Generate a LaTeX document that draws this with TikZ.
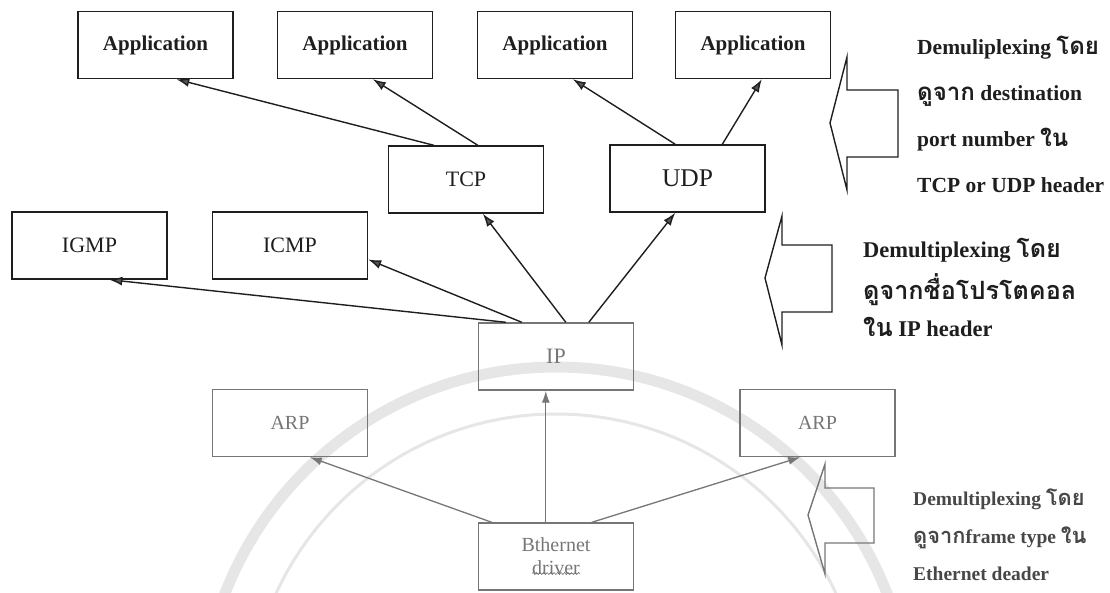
\documentclass[tikz,border=0pt]{standalone}
\usepackage{fontspec}
\setmainfont{Liberation Serif}
\newfontfamily\thaifont[Script=Thai,Scale=1.12]{Loma}
\usetikzlibrary{arrows.meta,calc,decorations.pathmorphing}
\definecolor{ink}{HTML}{1E1E1E}
\definecolor{headfill}{HTML}{555555}
\definecolor{faint}{HTML}{767676}
\definecolor{seal}{HTML}{E6E6E6}
\newcommand{\thx}[1]{{\thaifont #1}}
\begin{document}
\begin{tikzpicture}[x=1pt,y=-1pt,
  box/.style={draw=ink, line width=1.4pt, minimum width=155pt, minimum height=67pt,
    inner sep=0pt, text=ink, font=\fontsize{22}{24}\selectfont},
  appbox/.style={box, font=\bfseries\fontsize{21}{23}\selectfont},
  lowbox/.style={box, draw=faint, text=faint},
  link/.style={draw=ink, line width=1.4pt,
    -{Latex[length=13pt,width=9pt,fill=headfill]}},
  lowlink/.style={draw=faint, line width=1.3pt,
    -{Latex[length=12pt,width=8pt,fill=faint]}},
  blockarrow/.style={draw=ink, line width=1.4pt, line join=miter},
  note/.style={anchor=base west, inner sep=0pt, text=ink,
    font=\bfseries\fontsize{21.5}{24}\selectfont},
  lownote/.style={note, text=black!72,
    font=\bfseries\fontsize{19.5}{22}\selectfont},
]
\useasboundingbox (0,0) rectangle (1110,593);

% faint seal in the background
\begin{scope}
  \clip (0,0) rectangle (1110,593);
  \draw[seal, line width=11pt] (556,722) circle[radius=355];
  \draw[seal, line width=3pt] (556,722) circle[radius=308];
\end{scope}

% application layer
\node[appbox] (app1) at (155.5,45) {Application};
\node[appbox] (app2) at (355,45)   {Application};
\node[appbox] (app3) at (555,45)   {Application};
\node[appbox] (app4) at (753,45)   {Application};

% transport layer
\node[box] (tcp) at (466,179.5) {TCP};
\node[box, font=\fontsize{25.5}{27}\selectfont] (udp) at (687.5,178.5) {UDP};

% network layer
\node[box] (igmp) at (89.5,245.5) {IGMP};
\node[box] (icmp) at (290,245.5)  {ICMP};
\node[lowbox] (ip) at (556,356.5) {IP};

% link layer
\node[lowbox, font=\fontsize{20}{22}\selectfont] (arpl) at (290,423)   {ARP};
\node[lowbox, font=\fontsize{20}{22}\selectfont] (arpr) at (817.5,423) {ARP};
\node[lowbox, font=\fontsize{20}{23}\selectfont, align=center] (eth) at (556,556.5)
  {Bthernet\\driver};
\draw[faint, line width=0.6pt, decorate,
  decoration={snake, amplitude=1pt, segment length=3.5pt}]
  ($(eth.center)+(-24,17)$) -- ($(eth.center)+(24,17)$);

% demultiplexing upwards
\draw[link] ($(tcp.north west)+(46,0)$)  -- ($(app1.south west)+(99,0)$);
\draw[link] ($(tcp.north west)+(90,0)$)  -- ($(app2.south west)+(96,0)$);
\draw[link] ($(udp.north west)+(66,0)$)  -- ($(app3.south west)+(96,0)$);
\draw[link] ($(udp.north west)+(113,0)$) -- ($(app4.south west)+(87,0)$);

\draw[link] ($(ip.north west)+(88,0)$)  -- ($(tcp.south west)+(95,0)$);
\draw[link] ($(ip.north west)+(111,0)$) -- ($(udp.south west)+(66,0)$);
\draw[link] ($(ip.north west)+(44,0)$)  -- ($(icmp.east)+(0,14)$);
\draw[link] ($(ip.north west)+(28,0)$)  -- ($(igmp.south west)+(98,0)$);

\draw[lowlink] ($(eth.north west)+(68,0)$)  -- ($(ip.south west)+(68,0)$);
\draw[lowlink] ($(eth.north west)+(14,0)$)  -- ($(arpl.south west)+(98,0)$);
\draw[lowlink] ($(eth.north west)+(114,0)$) -- ($(arpr.south west)+(61,0)$);

% block arrows with their notes
\draw[blockarrow] (830,123) -- (847,57) -- (847,90) -- (898,90) -- (898,157)
  -- (847,157) -- (847,190) -- cycle;
\node[note] (n1a) at (917,55)  {Demuliplexing \thx{โดย}};
\node[note] (n1b) at (917,101) {\thx{ดูจาก} destination};
\node[note] (n1c) at (917,147) {port number \thx{ใน}};
\node[note] (n1d) at (917,193) {TCP or UDP header};

\draw[blockarrow] (765,278) -- (782,216) -- (782,245) -- (832,245) -- (832,312)
  -- (782,312) -- (782,345) -- cycle;
\node[note, font=\bfseries\fontsize{22.5}{24}\selectfont] (n2a) at (863,258)
  {Demultiplexing \thx{โดย}};
\node[note, font=\bfseries\fontsize{22.5}{24}\selectfont] (n2b) at (863,300)
  {\thx{ดูจากชื่อโปรโตคอล}};
\node[note, font=\bfseries\fontsize{22.5}{24}\selectfont] (n2c) at (863,337)
  {\thx{ใน} IP header};

\draw[blockarrow, draw=faint] (808,515) -- (825,464) -- (825,488) -- (874,488)
  -- (874,543) -- (825,543) -- (825,574) -- cycle;
\node[lownote] (n3a) at (913,505) {Demultiplexing \thx{โดย}};
\node[lownote] (n3b) at (913,543) {\thx{ดูจาก}frame type \thx{ใน}};
\node[lownote] (n3c) at (913,580) {Ethernet deader};
\end{tikzpicture}
\end{document}
